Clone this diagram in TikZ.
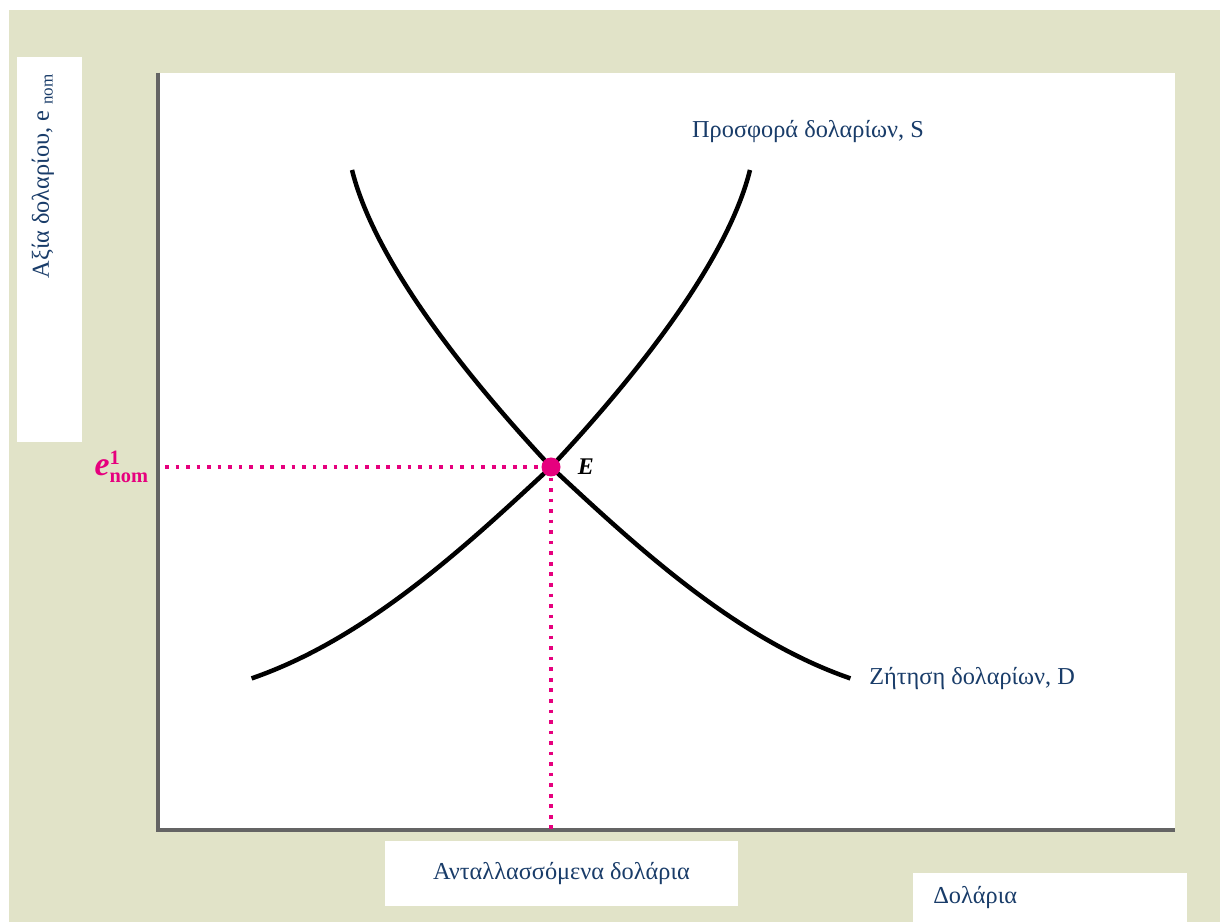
\documentclass[tikz,border=0pt]{standalone}
\usepackage{fontspec}
\setmainfont{Liberation Serif}
\usetikzlibrary{positioning}
\definecolor{panelbeige}{RGB}{225,227,200}
\definecolor{labelblue}{RGB}{25,60,105}
\definecolor{eqpink}{RGB}{230,0,126}
\definecolor{axisgray}{RGB}{100,100,100}

\begin{document}
\begin{tikzpicture}[every node/.style={font=\fontsize{17.3}{21}\selectfont, text=labelblue},
    whitebox/.style={fill=white, draw=none, inner sep=0pt},
    curve/.style={black, line width=3.2pt},
    guide/.style={eqpink, line width=2.6pt, dash pattern=on 2.6pt off 4.9pt},
    axis/.style={axisgray, line width=2.6pt}]

        \useasboundingbox (0,0) rectangle (30.5,23.05);

        % Panel behind everything
        \fill[panelbeige] (0.225,0) rectangle (30.5,22.8);

        % White label boxes
        \node[whitebox, minimum width=1.625cm, minimum height=9.625cm] (yLabelBox) at (1.2375,16.8125) {};
        \node[whitebox, minimum width=8.825cm, minimum height=1.625cm] (xLabelBox) at (14.0375,1.2125) {Ανταλλασσόμενα δολάρια};
        \node[whitebox, anchor=south west, minimum height=1.225cm, inner xsep=0.5cm, text width=5.85cm, align=left] (unitBox) at (22.825,0) {Δολάρια};
        \node[rotate=90] (yLabel) at (1.075,18.65) {Αξία δολαρίου, e \textsubscript{nom}};

        % Plot area and axes
        \node[whitebox, minimum width=25.425cm, minimum height=18.925cm] (plotArea) at (16.6625,11.7625) {};
        \draw[axis] (plotArea.north west) -- (plotArea.south west) -- (plotArea.south east);

        % Curve ends and equilibrium
        \coordinate (supplyLow) at (6.29,6.09);
        \coordinate (supplyHigh) at (18.75,18.8);
        \coordinate (demandHigh) at (8.8,18.8);
        \coordinate (demandLow) at (21.26,6.09);
        \coordinate (eq) at (13.775,11.375);
        \coordinate (eqLevel) at (4.125,11.375);
        \coordinate (eqQuantity) at (13.775,2.3);

        % Dotted guides
        \draw[guide] (eqLevel) -- (eq);
        \draw[guide] (eq) -- (eqQuantity);

        % Supply and demand
        \draw[curve] (supplyLow) to[out=19, in=223, distance=3cm] (eq)
            to[out=47, in=256, out distance=4cm, in distance=2cm] (supplyHigh);
        \draw[curve] (demandHigh) to[out=284, in=133, out distance=2cm, in distance=4cm] (eq)
            to[out=-43, in=161, distance=3cm] (demandLow);

        \node[circle, fill=eqpink, minimum size=0.475cm, inner sep=0pt] (eqPoint) at (eq) {};
        \node[right=0.3cm of eqPoint, text=black, font=\bfseries\itshape\fontsize{17}{20}\selectfont] (eqLabel) {E};
        \node[left=0.28cm of eqLevel, text=eqpink, font=\fontsize{20}{24}\selectfont] (eNomLabel)
            {{\fontsize{24}{28}\selectfont\bfseries\itshape e\/}$^{\textbf{\fontsize{14.5}{16}\selectfont 1}}_{\textbf{\fontsize{14.5}{16}\selectfont nom}}$};

        % Curve labels
        \node (supplyLabel) at (20.2,19.75) {Προσφορά δολαρίων, S};
        \node[right=0.35cm of demandLow] (demandLabel) {Ζήτηση δολαρίων, D};

    \end{tikzpicture}
\end{document}
